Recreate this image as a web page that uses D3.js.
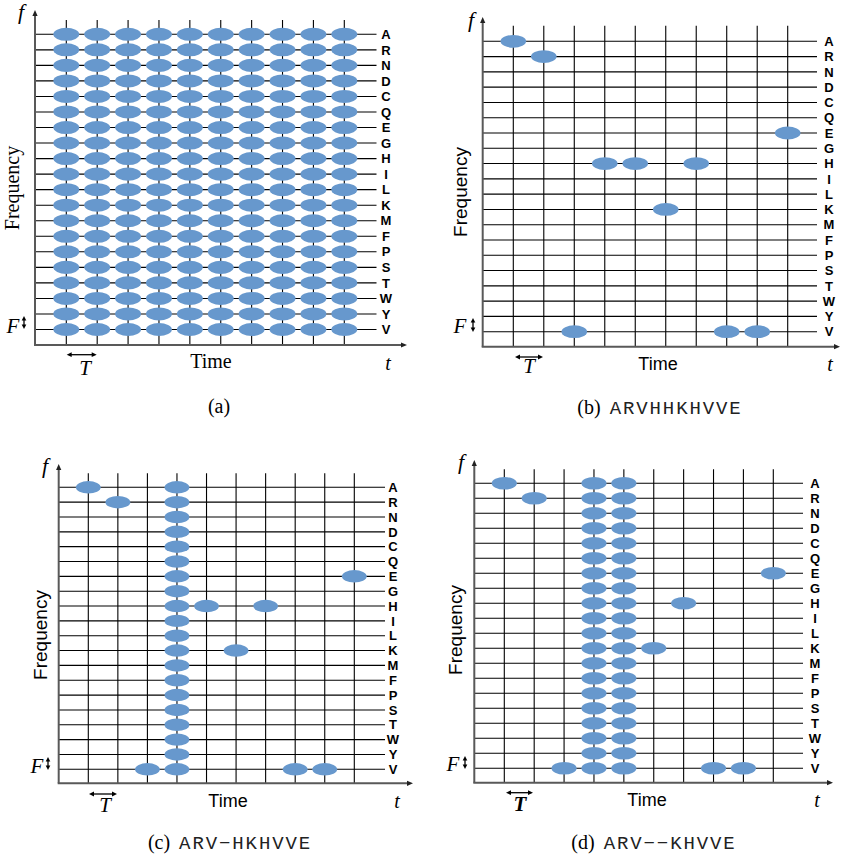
<!DOCTYPE html>
<html>
<head>
<meta charset="utf-8">
<script src="https://cdn.jsdelivr.net/npm/d3@7"></script>
<style>
  html, body { margin: 0; padding: 0; background: #fff; }
  svg { display: block; }
</style>
</head>
<body>
<svg id="chart" width="844" height="857"></svg>
<script>
// Amino-acid frequency slots, top to bottom
const residues = ["A","R","N","D","C","Q","E","G","H","I","L","K","M","F","P","S","T","W","Y","V"];
// Time slots
const timeSlots = d3.range(10);
// Sequences per panel; a gap "-" occupies every frequency slot in its time slot
const seqA = "----------";
const seqB = "ARVHHKHVVE";
const seqC = "ARV-HKHVVE";
const seqD = "ARV--KHVVE";
// Panel captions
const captionTags = ["(a)", "(b)", "(c)", "(d)"];
const captionSeqs = ["", "ARVHHKHVVE", "ARV\u2212HKHVVE", "ARV\u2212\u2212KHVVE"];

const fill = "#6798cd";
const axisGray = "#595959";

// Panel layouts
const panels = [
  { seq: seqA, serif: true, boldT: false,
    ax: 35, ay: 345, top: 10, rowA: 34.3, rowV: 329.5, col0: 66.3, col9: 344.3, vTop: 20, hEnd: 376.5, lab: 386, xEnd: 407,
    fx: 21, fy: 19, freqX: 12, freqY: 188, timeX: 211, timeY: 368, tArr: [66.7, 96.7, 354.7], Tx: 85, Ty: 375,
    tx: 388, ty: 370, Fx: 13, Fy: 333, dax: 24, day: [316, 329], capX: 219, capY: 413 },
  { seq: seqB, serif: false, boldT: false,
    ax: 482.7, ay: 346.7, top: 17, rowA: 41.3, rowV: 331.7, col0: 513.3, col9: 787.7, vTop: 25.7, hEnd: 817, lab: 829, xEnd: 840,
    fx: 471, fy: 27, freqX: 460, freqY: 192, timeX: 658, timeY: 370, tArr: [515, 543, 357], Tx: 529, Ty: 373,
    tx: 830, ty: 371, Fx: 460, Fy: 333, dax: 473, day: [318, 332], capX: 660, capY: 414 },
  { seq: seqC, serif: false, boldT: false,
    ax: 58.7, ay: 783.3, top: 464, rowA: 487.3, rowV: 769.3, col0: 88.3, col9: 354.3, vTop: 473.3, hEnd: 385, lab: 393, xEnd: 413,
    fx: 45, fy: 473, freqX: 40, freqY: 635, timeX: 228, timeY: 807, tArr: [89, 117, 794], Tx: 105, Ty: 812,
    tx: 397, ty: 808, Fx: 37, Fy: 773, dax: 48, day: [757, 770], capX: 230, capY: 849 },
  { seq: seqD, serif: false, boldT: true,
    ax: 474.3, ay: 782.7, top: 460, rowA: 483.3, rowV: 768.3, col0: 504.3, col9: 773.3, vTop: 469.3, hEnd: 803, lab: 815, xEnd: 833,
    fx: 461, fy: 469, freqX: 455, freqY: 630, timeX: 647, timeY: 806, tArr: [506, 533, 792.7], Tx: 520, Ty: 811,
    tx: 817, ty: 807, Fx: 453, Fy: 771, dax: 465, day: [756, 769], capX: 654, capY: 849 }
];

const svg = d3.select("#chart");
const serif = "'Liberation Serif', 'DejaVu Serif', serif";
const sans = "'Liberation Sans', Arial, sans-serif";
const mono = "'Liberation Mono', 'DejaVu Sans Mono', monospace";

// Small filled arrowhead pointing in direction (dx, dy)
function head(g, x, y, dx, dy, len, half, color) {
  const px = -dy, py = dx;
  const bx = x - dx * len, by = y - dy * len;
  g.append("path")
    .attr("d", `M${x},${y}L${bx + px * half},${by + py * half}L${bx - px * half},${by - py * half}Z`)
    .attr("fill", color);
}

panels.forEach((p, i) => {
  const g = svg.append("g");
  const y = d3.scalePoint().domain(residues).range([p.rowA, p.rowV]);
  const x = d3.scalePoint().domain(timeSlots).range([p.col0, p.col9]);
  const rowStep = y.step(), colStep = x.step();
  const labelFont = p.serif ? serif : sans;

  // Grid: horizontal frequency lines and vertical time lines
  g.selectAll("line.h").data(residues).join("line")
    .attr("x1", p.ax).attr("x2", p.hEnd)
    .attr("y1", d => y(d)).attr("y2", d => y(d))
    .attr("stroke", "#000").attr("stroke-width", 1.1);
  g.selectAll("line.v").data(timeSlots).join("line")
    .attr("x1", d => x(d)).attr("x2", d => x(d))
    .attr("y1", p.vTop).attr("y2", p.ay)
    .attr("stroke", "#000").attr("stroke-width", 1.1);

  // Axes with arrowheads
  g.append("line").attr("x1", p.ax).attr("x2", p.ax).attr("y1", p.ay).attr("y2", p.top + 4)
    .attr("stroke", axisGray).attr("stroke-width", 2);
  head(g, p.ax, p.top, 0, -1, 6, 2.6, "#222");
  g.append("line").attr("x1", p.ax - 1).attr("x2", p.xEnd - 4).attr("y1", p.ay).attr("y2", p.ay)
    .attr("stroke", axisGray).attr("stroke-width", 2);
  head(g, p.xEnd, p.ay, 1, 0, 6, 2.6, "#222");

  // Residue labels on the right
  g.selectAll("text.res").data(residues).join("text")
    .attr("x", p.lab).attr("y", d => y(d))
    .attr("dy", "0.36em").attr("text-anchor", "middle")
    .attr("font-family", sans).attr("font-weight", "bold").attr("font-size", 13)
    .text(d => d);

  // Occupied time-frequency cells
  const cells = [];
  Array.from(p.seq).forEach((c, t) => {
    if (c === "-") residues.forEach(r => cells.push({ t, r }));
    else cells.push({ t, r: c });
  });
  g.selectAll("ellipse").data(cells).join("ellipse")
    .attr("cx", d => x(d.t)).attr("cy", d => y(d.r))
    .attr("rx", colStep * 0.42).attr("ry", rowStep * 0.42)
    .attr("fill", fill);

  // Axis annotations
  g.append("text").attr("x", p.fx).attr("y", p.fy).attr("text-anchor", "middle")
    .attr("font-family", serif).attr("font-style", "italic").attr("font-size", 22).text("f");
  g.append("text").attr("transform", `translate(${p.freqX},${p.freqY}) rotate(-90)`)
    .attr("text-anchor", "middle").attr("dy", "0.35em")
    .attr("font-family", labelFont).attr("font-size", p.serif ? 20 : 19).text("Frequency");
  g.append("text").attr("x", p.timeX).attr("y", p.timeY).attr("text-anchor", "middle")
    .attr("font-family", labelFont).attr("font-size", p.serif ? 20 : 18).text("Time");
  g.append("text").attr("x", p.tx).attr("y", p.ty).attr("text-anchor", "middle")
    .attr("font-family", serif).attr("font-style", "italic").attr("font-size", 20).text("t");
  g.append("text").attr("x", p.Tx).attr("y", p.Ty).attr("text-anchor", "middle")
    .attr("font-family", serif).attr("font-style", "italic")
    .attr("font-weight", p.boldT ? "bold" : "normal").attr("font-size", 21).text("T");
  g.append("text").attr("x", p.Fx).attr("y", p.Fy).attr("text-anchor", "middle")
    .attr("font-family", serif).attr("font-style", "italic").attr("font-size", 21).text("F");

  // Period T: horizontal double arrow
  const [t0, t1, ty] = p.tArr;
  g.append("line").attr("x1", t0 + 3).attr("x2", t1 - 3).attr("y1", ty).attr("y2", ty)
    .attr("stroke", "#000").attr("stroke-width", 1.3);
  head(g, t0, ty, -1, 0, 5, 2.4, "#000");
  head(g, t1, ty, 1, 0, 5, 2.4, "#000");

  // Spacing F: vertical double arrow
  const [d0, d1] = p.day;
  g.append("line").attr("x1", p.dax).attr("x2", p.dax).attr("y1", d0 + 3).attr("y2", d1 - 3)
    .attr("stroke", "#000").attr("stroke-width", 1.3);
  head(g, p.dax, d0, 0, -1, 4.5, 2.3, "#000");
  head(g, p.dax, d1, 0, 1, 4.5, 2.3, "#000");

  // Caption
  const cap = g.append("text").attr("x", p.capX).attr("y", p.capY).attr("text-anchor", "middle");
  cap.append("tspan").attr("font-family", serif).attr("font-size", 20).text(captionTags[i]);
  if (captionSeqs[i]) {
    cap.append("tspan").attr("font-family", mono).attr("font-size", 19)
      .attr("letter-spacing", 1.9).attr("dx", 9).attr("fill", "#222").text(captionSeqs[i]);
  }
});
</script>
</body>
</html>
